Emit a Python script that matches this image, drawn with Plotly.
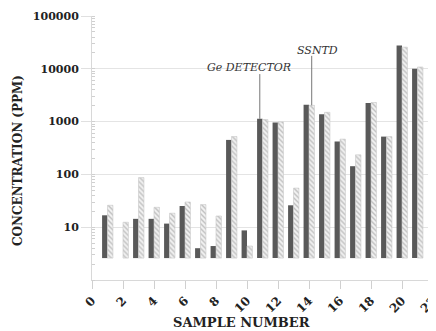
import math
import plotly.graph_objects as go

samples = list(range(1, 22))
ge_detector = [16.8, None, 14.4, 14.4, 11.7, 25.2, 4.0, 4.4, 450, 8.7,
               1130, 960, 26, 2090, 1380, 420, 143, 2240, 520, 27500, 10000]
ssntd = [26, 12.4, 87, 23.8, 18.4, 30, 26.8, 16.3, 522, 4.4,
         1090, 985, 55, 2030, 1500, 465, 235, 2300, 520, 25700, 10800]
bar_base = 2.6
x_ticks = list(range(0, 23, 2))
y_ticks = [10, 100, 1000, 10000, 100000]

serif = "DejaVu Serif"

def above_base(vals):
    return [None if v is None else v - bar_base for v in vals]

fig = go.Figure()
fig.add_trace(go.Bar(
    x=samples, y=above_base(ge_detector), base=bar_base, name="Ge DETECTOR",
    marker=dict(color="#595959", line=dict(width=0)),
))
fig.add_trace(go.Bar(
    x=samples, y=above_base(ssntd), base=bar_base, name="SSNTD",
    marker=dict(color="#ffffff", line=dict(width=0.6, color="#c8c8c8"),
                pattern=dict(shape="\\", fgcolor="#8c8c8c", bgcolor="#f2f2f2",
                             size=3.5, solidity=0.4)),
))

# leader lines for the labels
ge_label = dict(x=10.13, y=10 ** 4.02, line_top=10 ** 3.9, idx=10, off=-0.175)
ss_label = dict(x=14.55, y=10 ** 4.34, line_top=10 ** 4.245, idx=13, off=0.175)
for lab, vals in ((ge_label, ge_detector), (ss_label, ssntd)):
    xl = samples[lab["idx"]] + lab["off"]
    fig.add_trace(go.Scatter(
        x=[xl, xl], y=[vals[lab["idx"]], lab["line_top"]], mode="lines",
        line=dict(color="#777777", width=1), showlegend=False, hoverinfo="skip",
    ))

fig.add_annotation(x=ge_label["x"], y=math.log10(ge_label["y"]), text="<i>Ge DETECTOR</i>",
                   showarrow=False, font=dict(family=serif, size=11, color="#333333"))
fig.add_annotation(x=ss_label["x"], y=math.log10(ss_label["y"]), text="<i>SSNTD</i>",
                   showarrow=False, font=dict(family=serif, size=11, color="#333333"))

fig.add_annotation(xref="paper", yref="paper", x=(241 - 92) / 341, y=-(322 - 280) / 264,
                   xanchor="center", yanchor="middle",
                   text="<b>SAMPLE NUMBER</b>", showarrow=False,
                   font=dict(family=serif, size=13, color="#222222"))
fig.add_annotation(xref="paper", yref="paper", x=-(92 - 18) / 341, y=(280 - 161) / 264,
                   xanchor="center", yanchor="middle",
                   text="<b>CONCENTRATION (PPM)</b>", showarrow=False, textangle=-90,
                   font=dict(family=serif, size=12, color="#222222"))

# the page body adds an 8px offset, so the figure is sized to end at the window edge
fig.update_layout(
    width=428, height=323,
    margin=dict(l=84, r=3, t=8, b=51),
    paper_bgcolor="white", plot_bgcolor="white",
    barmode="group", bargap=0.3, bargroupgap=0,
    showlegend=False,
    font=dict(family=serif, color="#222222"),
)
fig.update_xaxes(
    range=[0, 22], tickvals=x_ticks, ticktext=[f"<b>{t}</b>" for t in x_ticks],
    tickangle=-45, ticks="outside", ticklen=8, tickcolor="#d0d0d0",
    showline=True, linecolor="#d8d8d8", linewidth=1, showgrid=False, zeroline=False,
    tickfont=dict(family=serif, size=12, color="#222222"),
    automargin=False, ticklabeloverflow="allow",
)
fig.update_yaxes(
    type="log", range=[0, 5], tickvals=y_ticks, ticktext=[f"<b>{t}</b>" for t in y_ticks],
    ticks="outside", ticklen=10, tickcolor="#e0e0e0",
    showgrid=True, gridcolor="#e4e4e4", gridwidth=1,
    showline=True, linecolor="#d8d8d8", linewidth=1, zeroline=False,
    tickfont=dict(family=serif, size=11, color="#222222"),
    minor=dict(ticks="inside", ticklen=3, tickcolor="#d0d0d0", dtick="D1", showgrid=False),
    automargin=False, ticklabeloverflow="allow",
)

fig.write_html("out.html")
